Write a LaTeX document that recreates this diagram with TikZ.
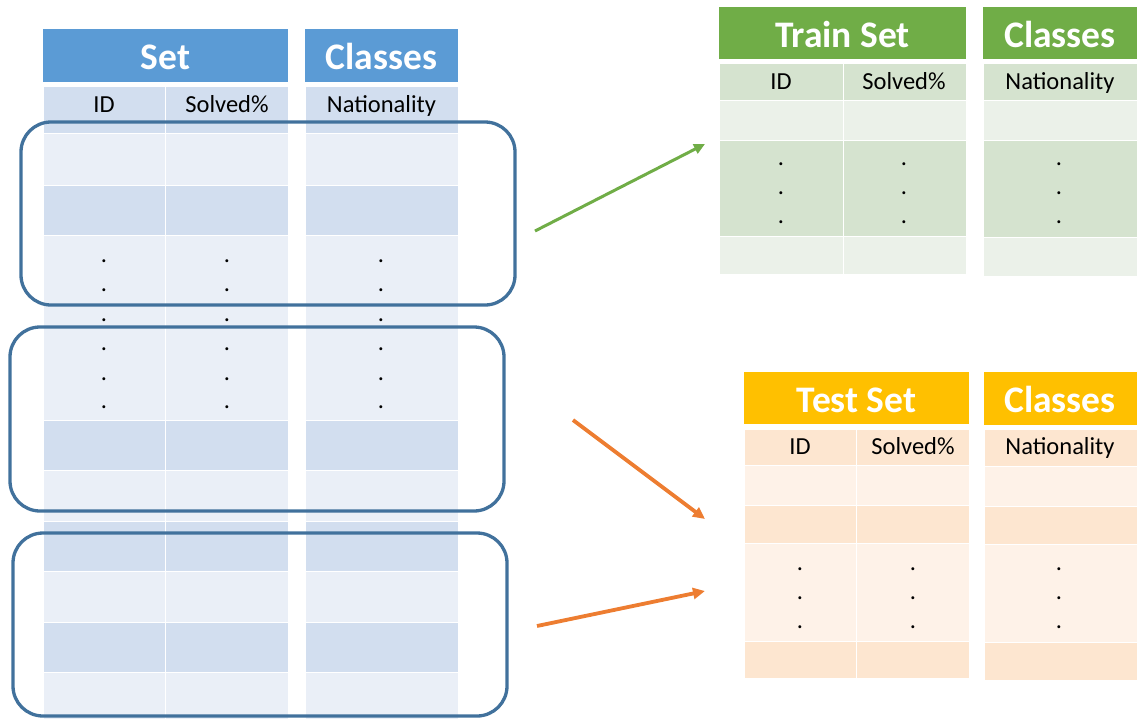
\documentclass[tikz,border=0pt]{standalone}
\usepackage{fontspec}
\setmainfont{Carlito}
\usetikzlibrary{arrows.meta}
\definecolor{blueH}{HTML}{5B9BD5}
\definecolor{blueD}{HTML}{D2DEEF}
\definecolor{blueL}{HTML}{EAEFF7}
\definecolor{greenH}{HTML}{70AD47}
\definecolor{greenD}{HTML}{D5E3CF}
\definecolor{greenL}{HTML}{EBF1E9}
\definecolor{goldH}{HTML}{FFC000}
\definecolor{peachD}{HTML}{FDE6D0}
\definecolor{peachL}{HTML}{FEF2E8}
\definecolor{frameC}{HTML}{41719C}
\definecolor{arrG}{HTML}{70AD47}
\definecolor{arrO}{HTML}{ED7D31}
\tikzset{
  cellline/.style={draw=white, line width=1pt},
  hdr/.style={text=white, font=\fontsize{37.5}{40}\selectfont\bfseries, anchor=base, inner sep=0pt},
  sub/.style={text=black, font=\fontsize{24.5}{28}\selectfont, anchor=base, inner sep=0pt},
  dotc/.style={text=black, font=\fontsize{24.5}{28}\selectfont, anchor=base, inner sep=0pt},
  frame/.style={draw=frameC, line width=3.3pt, rounded corners=30pt},
  garrow/.style={draw=arrG, line width=3pt, -{Triangle[length=11pt,width=10pt]}},
  oarrow/.style={draw=arrO, line width=3.8pt, -{Triangle[length=12pt,width=11pt]}}
}
\begin{document}
\begin{tikzpicture}[x=1pt,y=-1pt]
\useasboundingbox (0,0) rectangle (1137,718);
% ---------------- Left table ----------------
\fill[blueH] (43,29) rectangle (288,82);
\fill[blueH] (305,29) rectangle (458,82);
\node[hdr] (lsethdr) at (165.5,69) {Set};
\node[hdr] (lclshdr) at (381.5,69) {Classes};
\foreach \ya/\yb/\c in {86/133/blueD,133/185/blueL,185/235/blueD,235/420/blueL,420/470/blueD,470/521/blueL,521/571/blueD,571/622/blueL,622/672/blueD,672/724/blueL}{
  \foreach \xa/\xb in {43/165,165/288,305/458}{
    \filldraw[fill=\c, cellline] (\xa,\ya) rectangle (\xb,\yb);
  }
}
\node[sub] (lid) at (104,112) {ID};
\node[sub] (lsolved) at (227,112) {Solved\%};
\node[sub] (lnat) at (381.5,112) {Nationality};
\foreach \x [count=\i] in {104,227,381}{
  \foreach \y [count=\j] in {261,290,320,349,379,407}{
    \node[dotc] (ldot\i\j) at (\x,\y+1.8) {.};
  }
}
% ---------------- Train table ----------------
\fill[greenH] (719,7) rectangle (966,59);
\fill[greenH] (983,7) rectangle (1140,59);
\node[hdr] (trhdr) at (842.5,47) {Train Set};
\node[hdr] (trcls) at (1060,47) {Classes};
\foreach \ya/\yb/\c in {63/100/greenD,100/140/greenL,140/236/greenD,236/274/greenL}{
  \foreach \xa/\xb in {719/843,843/966}{
    \filldraw[fill=\c, cellline] (\xa,\ya) rectangle (\xb,\yb);
  }
}
\foreach \ya/\yb/\c in {63/100/greenD,100/140/greenL,140/237/greenD,237/276/greenL}{
  \filldraw[fill=\c, cellline] (983,\ya) rectangle (1142,\yb);
}
\node[sub] (trid) at (781,89) {ID};
\node[sub] (trsolved) at (904,89) {Solved\%};
\node[sub] (trnat) at (1060,89) {Nationality};
\foreach \x [count=\i] in {781,904,1059}{
  \foreach \y [count=\j] in {164,193,222}{
    \node[dotc] (trdot\i\j) at (\x,\y+1.8) {.};
  }
}
% ---------------- Test table ----------------
\fill[goldH] (744,372) rectangle (969,424);
\fill[goldH] (984,372) rectangle (1140,425);
\node[hdr] (tshdr) at (856.5,412) {Test Set};
\node[hdr] (tscls) at (1060,412) {Classes};
\foreach \ya/\yb/\c in {429/465/peachD,465/505/peachL,505/543/peachD,543/641/peachL,641/678/peachD}{
  \foreach \xa/\xb in {744/856,856/969}{
    \filldraw[fill=\c, cellline] (\xa,\ya) rectangle (\xb,\yb);
  }
}
\foreach \ya/\yb/\c in {429/466/peachD,466/506/peachL,506/544/peachD,544/642/peachL,642/680/peachD}{
  \filldraw[fill=\c, cellline] (984,\ya) rectangle (1142,\yb);
}
\node[sub] (tsid) at (800,454) {ID};
\node[sub] (tssolved) at (913,454) {Solved\%};
\node[sub] (tsnat) at (1060,454) {Nationality};
\foreach \x [count=\i] in {800,913,1059}{
  \foreach \y [count=\j] in {569,598,627}{
    \node[dotc] (tsdot\i\j) at (\x,\y+1.8) {.};
  }
}
% ---------------- Group frames ----------------
\draw[frame] (21,122) rectangle (515,305);
\draw[frame] (10,327) rectangle (504,511);
\draw[frame] (13,533) rectangle (507,716);
% ---------------- Arrows ----------------
\coordinate (ga) at (535,231);
\coordinate (gb) at (705,144);
\coordinate (oa1) at (573,420);
\coordinate (ob1) at (705,519);
\coordinate (oa2) at (537,626);
\coordinate (ob2) at (705,591);
\draw[garrow] (ga) -- (gb);
\draw[oarrow] (oa1) -- (ob1);
\draw[oarrow] (oa2) -- (ob2);
\end{tikzpicture}
\end{document}
